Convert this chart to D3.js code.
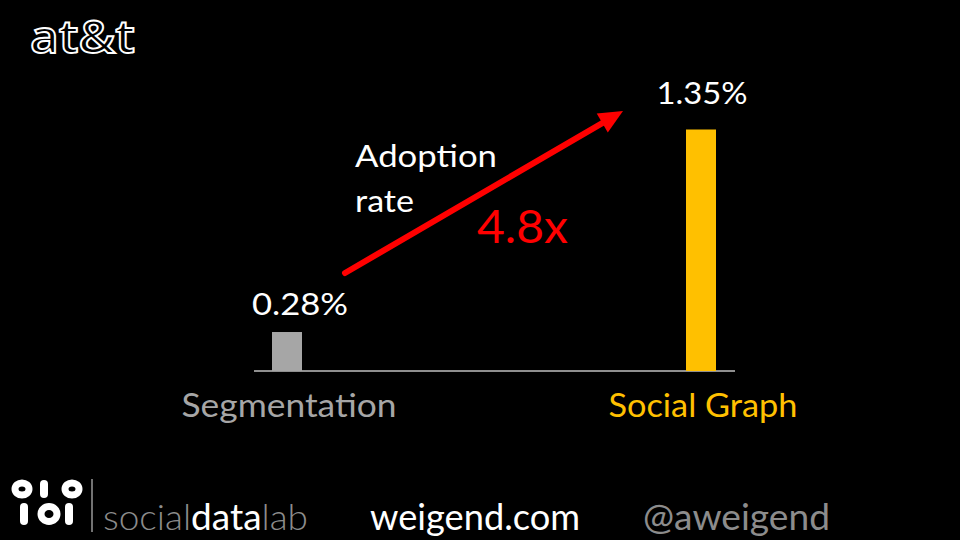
<!DOCTYPE html>
<html>
<head>
<meta charset="utf-8">
<script src="https://cdn.jsdelivr.net/npm/d3@7"></script>
<style>
  html, body { margin: 0; padding: 0; background: #000; }
  svg { display: block; }
</style>
</head>
<body>
<div id="chart"></div>
<script>
// ---- data ----
const categories = ["Segmentation", "Social Graph"];
const values = [0.28, 1.35];
const valueLabels = ["0.28%", "1.35%"];
const barColors = ["#A6A6A6", "#FFC000"];
const labelColors = ["#A6A6A6", "#FFC000"];
const arrowLabel = ["Adoption", "rate"];
const multiplierLabel = "4.8x";
const brand = "at&t";
const footerParts = [["social", "#8C8C8C"], ["data", "#FFFFFF"], ["lab", "#8C8C8C"]];
const footerSite = "weigend.com";
const footerHandle = "@aweigend";

// ---- layout ----
const W = 960, H = 540;
const FONT = "Lato, 'Open Sans', sans-serif";
const svg = d3.select("#chart").append("svg").attr("width", W).attr("height", H);
svg.append("rect").attr("width", W).attr("height", H).attr("fill", "#000");

const baseY = 371;
const x = d3.scalePoint().domain(categories).range([287, 701]);
const y = d3.scaleLinear().domain([0.074, 1.35]).range([baseY, 129.5]);
const barW = 30;

function fit(sel, w) {
  sel.attr("textLength", w).attr("lengthAdjust", "spacingAndGlyphs");
  return sel;
}

// baseline
svg.append("line").attr("x1", 254).attr("x2", 735).attr("y1", baseY).attr("y2", baseY)
  .attr("stroke", "#BFBFBF").attr("stroke-width", 1.5);

// bars
svg.selectAll("rect.bar").data(values).join("rect").attr("class", "bar")
  .attr("x", (d, i) => x(categories[i]) - barW / 2)
  .attr("width", barW)
  .attr("y", d => y(d))
  .attr("height", d => baseY - y(d))
  .attr("fill", (d, i) => barColors[i]);

// value labels
const vlOff = [13, 1];
const vlW = [96, 91];
svg.selectAll("text.vl").data(values).join("text").attr("class", "vl")
  .attr("x", (d, i) => x(categories[i]) + vlOff[i])
  .attr("y", (d, i) => y(d) - (i === 0 ? 17 : 26))
  .attr("text-anchor", "middle")
  .attr("fill", "#FFFFFF")
  .attr("font-family", FONT)
  .attr("font-size", 31)
  .text((d, i) => valueLabels[i])
  .each(function (d, i) { fit(d3.select(this), vlW[i]); });

// category labels
const catW = [215, 189];
svg.selectAll("text.cat").data(categories).join("text").attr("class", "cat")
  .attr("x", d => x(d) + 2)
  .attr("y", 417)
  .attr("text-anchor", "middle")
  .attr("fill", (d, i) => labelColors[i])
  .attr("font-family", FONT)
  .attr("font-size", 32)
  .text(d => d)
  .each(function (d, i) { fit(d3.select(this), catW[i]); });

// arrow
const x0 = 345, y0 = 273, x1 = 623, y1 = 111;
const dx = x1 - x0, dy = y1 - y0, len = Math.hypot(dx, dy);
const ux = dx / len, uy = dy / len, px = -uy, py = ux;
const headL = 24, headW = 11;
const bx = x1 - ux * headL, by = y1 - uy * headL;
svg.append("line").attr("x1", x0).attr("y1", y0).attr("x2", bx + ux * 2).attr("y2", by + uy * 2)
  .attr("stroke", "#FF0000").attr("stroke-width", 6).attr("stroke-linecap", "round");
svg.append("polygon")
  .attr("points", [[x1, y1], [bx + px * headW, by + py * headW], [bx - px * headW, by - py * headW]].map(p => p.join(",")).join(" "))
  .attr("fill", "#FF0000");

// arrow labels
svg.append("text").attr("x", 355).attr("y", 167).attr("fill", "#FFFFFF")
  .attr("font-family", FONT).attr("font-size", 31).text(arrowLabel[0])
  .call(fit, 142);
svg.append("text").attr("x", 355).attr("y", 212).attr("fill", "#FFFFFF")
  .attr("font-family", FONT).attr("font-size", 31).text(arrowLabel[1])
  .call(fit, 59);
svg.append("text").attr("x", 477).attr("y", 243).attr("fill", "#FF0000")
  .attr("font-family", FONT).attr("font-size", 46).attr("font-weight", 400).text(multiplierLabel)
  .call(fit, 91);

// brand logo (top-left)
svg.append("text").attr("x", 30).attr("y", 53).attr("fill", "#000")
  .attr("stroke", "#FFFFFF").attr("stroke-width", 1.8)
  .attr("font-family", "'Open Sans', sans-serif").attr("font-size", 46).attr("font-weight", 600)
  .text(brand).call(fit, 105);

// footer logo 010 / 101
const g = svg.append("g");
const ring = (cx, cy, rx, ry) => g.append("ellipse").attr("cx", cx).attr("cy", cy).attr("rx", rx).attr("ry", ry)
  .attr("fill", "none").attr("stroke", "#FFFFFF").attr("stroke-width", 7);
const bar = (bx_, by_, h) => g.append("rect").attr("x", bx_).attr("y", by_).attr("width", 8).attr("height", h).attr("rx", 4).attr("fill", "#FFFFFF");
ring(22, 489, 7, 6); bar(40, 480, 18); ring(72, 489, 7, 6);
bar(20, 503, 22); ring(49, 514, 8, 7.5); bar(65, 503, 22);
svg.append("line").attr("x1", 92).attr("x2", 92).attr("y1", 479).attr("y2", 532)
  .attr("stroke", "#BFBFBF").attr("stroke-width", 1.2);

// footer texts
const ft = svg.append("text").attr("x", 103).attr("y", 530)
  .attr("font-family", FONT).attr("font-size", 36).attr("font-weight", 300);
footerParts.forEach(([t, c]) => ft.append("tspan").attr("fill", c).attr("font-weight", c === "#FFFFFF" ? 400 : 300).text(t));
fit(ft, 205);
svg.append("text").attr("x", 370).attr("y", 530).attr("fill", "#FFFFFF")
  .attr("font-family", FONT).attr("font-size", 36).text(footerSite).call(fit, 210);
svg.append("text").attr("x", 643).attr("y", 530).attr("fill", "#8C8C8C")
  .attr("font-family", FONT).attr("font-size", 36).text(footerHandle).call(fit, 187);
</script>
</body>
</html>
